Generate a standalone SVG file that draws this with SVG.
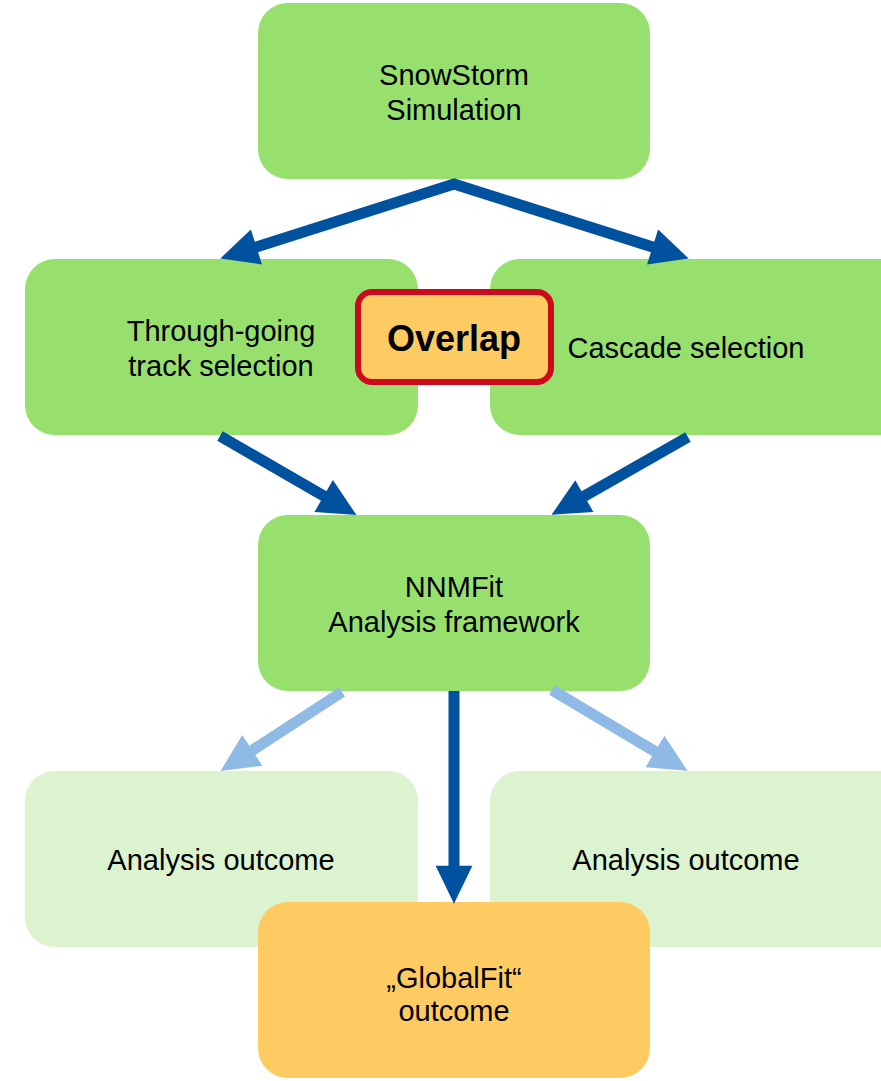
<svg xmlns="http://www.w3.org/2000/svg" width="881" height="1081" viewBox="0 0 881 1081">
  <style>
    .box { stroke: none; }
    .main { fill: #97E06D; }
    .faint { fill: #DBF3CE; }
    .gold { fill: #FECB63; }
    .overlap { fill: #FECB63; stroke: #CC0A1E; stroke-width: 6; }
    text { font-family: "Liberation Sans", Arial, sans-serif; font-size: 29px; fill: #000; text-anchor: middle; }
    .bold { font-weight: bold; font-size: 36px; }
    .flow { fill: none; stroke: #00529F; stroke-width: 11; stroke-linejoin: miter; }
    .soft { fill: none; stroke: #8FBAE5; stroke-width: 11; }
  </style>
  <defs>
    <marker id="headDark" markerUnits="userSpaceOnUse" markerWidth="40" markerHeight="40" viewBox="-15 -18 37 36" refX="0" refY="0" orient="auto-start-reverse">
      <path d="M-14,-17 L21,0 L-14,17 z" fill="#00529F"/>
    </marker>
    <marker id="headLight" markerUnits="userSpaceOnUse" markerWidth="40" markerHeight="40" viewBox="-15 -18 37 36" refX="0" refY="0" orient="auto">
      <path d="M-14,-17 L21,0 L-14,17 z" fill="#8FBAE5"/>
    </marker>
  </defs>

  <g id="snowstorm">
    <rect class="box main" x="258" y="3" width="392" height="176" rx="30"/>
    <text x="454" y="85">SnowStorm</text>
    <text x="454" y="120">Simulation</text>
  </g>

  <g id="track">
    <rect class="box main" x="25" y="259" width="393" height="176" rx="30"/>
    <text x="221" y="341">Through-going</text>
    <text x="221" y="376">track selection</text>
  </g>

  <g id="cascade">
    <rect class="box main" x="490" y="259" width="420" height="176" rx="30"/>
    <text x="686" y="358">Cascade selection</text>
  </g>

  <g id="overlap">
    <rect class="overlap" x="358" y="292" width="193" height="90" rx="14"/>
    <text class="bold" x="454" y="351">Overlap</text>
  </g>

  <g id="nnmfit">
    <rect class="box main" x="258" y="515" width="392" height="176" rx="30"/>
    <text x="454" y="597">NNMFit</text>
    <text x="454" y="632">Analysis framework</text>
  </g>

  <g id="outcome-left">
    <rect class="box faint" x="25" y="771" width="393" height="176" rx="30"/>
    <text x="221" y="870">Analysis outcome</text>
  </g>

  <g id="outcome-right">
    <rect class="box faint" x="490" y="771" width="420" height="176" rx="30"/>
    <text x="686" y="870">Analysis outcome</text>
  </g>

  <g id="globalfit">
    <rect class="box gold" x="258" y="902" width="392" height="176" rx="30"/>
    <text x="454" y="988">„GlobalFit“</text>
    <text x="454" y="1021">outcome</text>
  </g>

  <g id="connectors">
    <path class="flow" d="M242,251.5 L454,184 L667,251.6" marker-start="url(#headDark)" marker-end="url(#headDark)"/>
    <path class="flow" d="M220,436 L336.8,503.6" marker-end="url(#headDark)"/>
    <path class="flow" d="M688,437 L571.2,503.6" marker-end="url(#headDark)"/>
    <path class="flow" d="M454,691 L454,881" marker-end="url(#headDark)"/>
    <path class="soft" d="M342,692 L239.6,758.6" marker-end="url(#headLight)"/>
    <path class="soft" d="M552,690 L668,759.2" marker-end="url(#headLight)"/>
  </g>
</svg>
